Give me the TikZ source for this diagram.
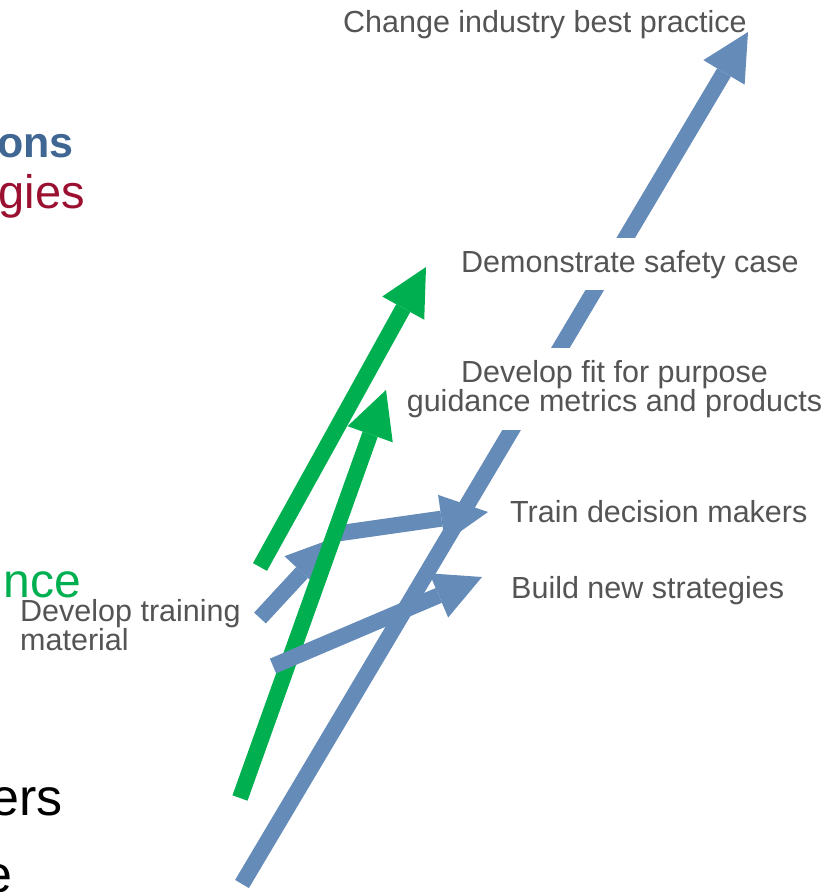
\documentclass[tikz,border=0pt]{standalone}
\usepackage{fontspec}
\setmainfont{Liberation Sans}
\usetikzlibrary{arrows.meta}
\definecolor{arrowblue}{HTML}{658BB9}
\definecolor{arrowgreen}{HTML}{00B050}
\definecolor{goalgray}{HTML}{545454}
\definecolor{titleblue}{HTML}{406793}
\definecolor{titlered}{HTML}{9B1030}
\tikzset{
  goal/.style={text=goalgray, inner sep=0pt, font=\fontsize{30.5}{27.5}\selectfont},
  cover/.style={goal, fill=white, inner xsep=4pt, inner ysep=12pt},
  bluearrow/.style={draw=arrowblue, line width=16pt,
    -{Triangle[length=47pt, width=48pt, line width=0pt]}},
  greenarrow/.style={bluearrow, draw=arrowgreen},
  cutoff/.style={anchor=base east, inner sep=0pt}
}
\begin{document}
\begin{tikzpicture}[x=1pt,y=-1pt]
  \useasboundingbox (0,0) rectangle (821,892);
  \clip (0,0) rectangle (821,892);
  % slide text cut off at the left edge
  \node[cutoff, text=titleblue, font=\fontsize{43}{50}\selectfont\bfseries] (ons) at (74,157) {ons};
  \node[cutoff, text=titlered, font=\fontsize{47}{50}\selectfont] (gies) at (85,208) {gies};
  \node[cutoff, text=arrowgreen, font=\fontsize{48}{50}\selectfont] (nce) at (81,597) {nce};
  \node[cutoff, text=black, font=\fontsize{52}{60}\selectfont] (ers) at (63,815) {ers};
  \node[cutoff, text=black, font=\fontsize{52}{60}\selectfont] (e) at (13,892) {e};
  % arrow ends
  \coordinate (practiceStart) at (242,884);
  \coordinate (practiceTip) at (748,32);
  \coordinate (materialStart) at (260,618);
  \coordinate (materialTip) at (334,538);
  \coordinate (trainStart) at (334,534);
  \coordinate (trainTip) at (488,512);
  \coordinate (safetyStart) at (260,567);
  \coordinate (safetyTip) at (426,267);
  \coordinate (metricsStart) at (240,798);
  \coordinate (metricsTip) at (386,390);
  \coordinate (buildStart) at (273,666);
  \coordinate (buildTip) at (482,577);
  % goals
  \node[goal, anchor=base west] (practice) at (343,32) {Change industry best practice};
  \draw[bluearrow] (practiceStart) -- (practiceTip);
  \node[cover, anchor=base west] (safety) at (457,272) {Demonstrate safety case};
  \node[cover, align=center] (metrics) at (614.5,389) {Develop fit for purpose\\guidance metrics and products};
  \node[goal, anchor=base west] (train) at (510,522) {Train decision makers};
  \node[goal, anchor=base west] (build) at (511,598) {Build new strategies};
  \node[goal, align=left, anchor=west] (material) at (20,625) {Develop training\\material};
  % arrows
  \draw[bluearrow] (materialStart) -- (materialTip);
  \draw[bluearrow] (trainStart) -- (trainTip);
  \draw[greenarrow] (safetyStart) -- (safetyTip);
  \draw[greenarrow] (metricsStart) -- (metricsTip);
  \draw[bluearrow] (buildStart) -- (buildTip);
\end{tikzpicture}
\end{document}
